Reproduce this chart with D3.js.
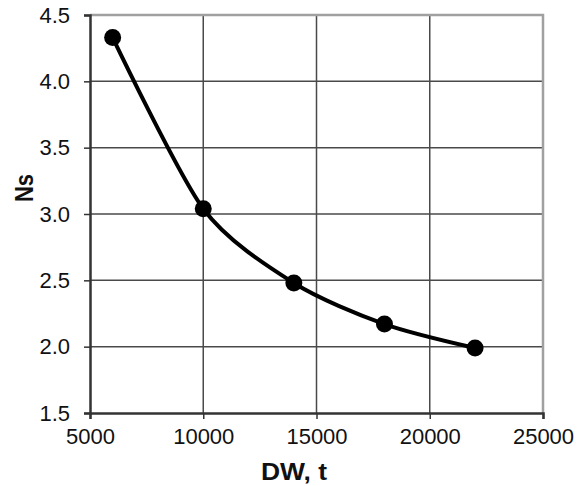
<!DOCTYPE html>
<html>
<head>
<meta charset="utf-8">
<script src="https://cdn.jsdelivr.net/npm/d3@7"></script>
<style>
  html, body { margin: 0; padding: 0; background: #fff; }
  svg { display: block; font-family: "Liberation Sans", Arial, sans-serif; }
</style>
</head>
<body>
<svg id="chart" width="587" height="486"></svg>
<script>
// Number of ships Ns versus deadweight DW
const dwValues = [6000, 10000, 14000, 18000, 22000];
const nsValues = [4.33, 3.04, 2.48, 2.17, 1.99];
const xTicks = [5000, 10000, 15000, 20000, 25000];
const yTicks = [1.5, 2.0, 2.5, 3.0, 3.5, 4.0, 4.5];

const svg = d3.select("#chart");
const plotLeft = 90, plotRight = 543, plotTop = 15, plotBottom = 413;

const x = d3.scaleLinear().domain([5000, 25000]).range([plotLeft, plotRight]);
const y = d3.scaleLinear().domain([1.5, 4.5]).range([plotBottom, plotTop]);

// gridlines
const grid = svg.append("g");
grid.selectAll("line.v").data(xTicks.slice(1, -1)).join("line")
  .attr("x1", d => x(d)).attr("x2", d => x(d))
  .attr("y1", plotTop).attr("y2", plotBottom)
  .attr("stroke", "#4a4a4a").attr("stroke-width", 1.5);
grid.selectAll("line.h").data(yTicks.slice(1, -1)).join("line")
  .attr("x1", plotLeft).attr("x2", plotRight)
  .attr("y1", d => y(d)).attr("y2", d => y(d))
  .attr("stroke", "#4a4a4a").attr("stroke-width", 1.5);

// top and right frame
svg.append("path")
  .attr("d", `M${plotLeft},${plotTop}H${plotRight}V${plotBottom}`)
  .attr("fill", "none").attr("stroke", "#a0a0a0").attr("stroke-width", 2.5);

// axes
const xAxis = d3.axisBottom(x).tickValues(xTicks).tickSize(6).tickPadding(9)
  .tickFormat(d3.format("d"));
const yAxis = d3.axisLeft(y).tickValues(yTicks).tickSize(6).tickPadding(14)
  .tickFormat(d3.format(".1f"));

const gx = svg.append("g").attr("transform", `translate(0,${plotBottom})`).call(xAxis);
const gy = svg.append("g").attr("transform", `translate(${plotLeft},0)`).call(yAxis);
[gx, gy].forEach(g => {
  g.select(".domain").attr("stroke", "#333").attr("stroke-width", 2.5);
  g.selectAll(".tick line").attr("stroke", "#333").attr("stroke-width", 1.5);
  g.selectAll(".tick text").attr("fill", "#111").style("font-size", "22px")
    .style("font-family", "'Liberation Sans', Arial, sans-serif");
});

// curve
const pts = dwValues.map((d, i) => [d, nsValues[i]]);
const line = d3.line().x(d => x(d[0])).y(d => y(d[1])).curve(d3.curveCardinal.tension(0.2));
svg.append("path").datum(pts).attr("d", line)
  .attr("fill", "none").attr("stroke", "#000").attr("stroke-width", 4);

svg.selectAll("circle.pt").data(pts).join("circle")
  .attr("cx", d => x(d[0])).attr("cy", d => y(d[1])).attr("r", 8.5)
  .attr("fill", "#000");

// axis titles
svg.append("text").attr("transform", "translate(294,480) scale(1.15,1)")
  .attr("text-anchor", "middle")
  .style("font-size", "23px").style("font-weight", "bold").attr("fill", "#111")
  .text("DW, t");
svg.append("text").attr("transform", "translate(33,188) rotate(-90) scale(1,1.15)")
  .attr("text-anchor", "middle")
  .style("font-size", "22px").style("font-weight", "bold").attr("fill", "#111")
  .text("Ns");
</script>
</body>
</html>
